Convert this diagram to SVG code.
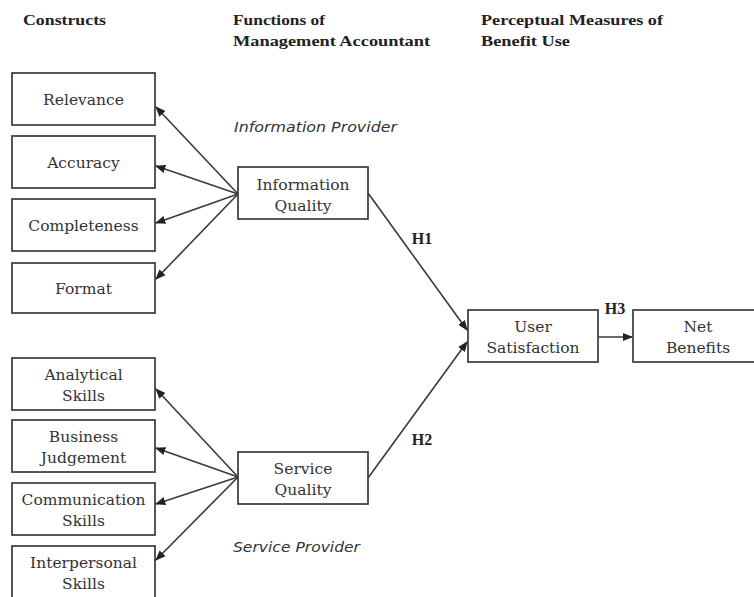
<svg xmlns="http://www.w3.org/2000/svg" width="754" height="597" viewBox="0 0 754 597">
  <style>
    .box { fill: #fff; stroke: #3a3a3a; stroke-width: 1.7; }
    .lbl { font-family: "DejaVu Serif", "Liberation Serif", serif; font-size: 15.5px; fill: #333; text-anchor: middle; }
    .hdr { font-family: "Liberation Serif", serif; font-size: 15px; font-weight: bold; fill: #222; }
    .cap { font-family: "DejaVu Sans", "Liberation Sans", sans-serif; font-size: 14px; font-style: italic; fill: #333; }
    .hyp { font-family: "Liberation Serif", serif; font-size: 16px; font-weight: bold; fill: #222; }
    .edge { stroke: #3a3a3a; stroke-width: 1.6; fill: none; marker-end: url(#arrow); }
  </style>
  <defs>
    <marker id="arrow" viewBox="0 0 10 10" refX="9" refY="5" markerWidth="6.5" markerHeight="6.5" orient="auto" markerUnits="strokeWidth">
      <path d="M0,1 L10,5 L0,9 z" fill="#222"/>
    </marker>
  </defs>

  <!-- column headings -->
  <g id="headings">
    <text class="hdr" x="23" y="25" textLength="83" lengthAdjust="spacingAndGlyphs">Constructs</text>
    <text class="hdr" x="233" y="25" textLength="92" lengthAdjust="spacingAndGlyphs">Functions of</text>
    <text class="hdr" x="233" y="46" textLength="197" lengthAdjust="spacingAndGlyphs">Management Accountant</text>
    <text class="hdr" x="481" y="25" textLength="182" lengthAdjust="spacingAndGlyphs">Perceptual Measures of</text>
    <text class="hdr" x="481" y="46" textLength="89" lengthAdjust="spacingAndGlyphs">Benefit Use</text>
  </g>

  <!-- role captions -->
  <text class="cap" x="234" y="132" textLength="163" lengthAdjust="spacingAndGlyphs">Information Provider</text>
  <text class="cap" x="233" y="552" textLength="127" lengthAdjust="spacingAndGlyphs">Service Provider</text>

  <!-- connectors -->
  <g id="connectors">
    <line class="edge" x1="238" y1="194" x2="156" y2="107"/>
    <line class="edge" x1="238" y1="194" x2="156" y2="166"/>
    <line class="edge" x1="238" y1="194" x2="156" y2="223"/>
    <line class="edge" x1="238" y1="194" x2="156" y2="279"/>
    <line class="edge" x1="238" y1="477" x2="156" y2="389"/>
    <line class="edge" x1="238" y1="477" x2="156" y2="448"/>
    <line class="edge" x1="238" y1="477" x2="156" y2="504"/>
    <line class="edge" x1="238" y1="477" x2="156" y2="560"/>
    <line class="edge" x1="368" y1="193" x2="467" y2="330"/>
    <line class="edge" x1="368" y1="478" x2="467" y2="342"/>
    <line class="edge" x1="598" y1="337" x2="632" y2="337"/>
    <text class="hyp" x="422" y="244" text-anchor="middle">H1</text>
    <text class="hyp" x="422" y="445" text-anchor="middle">H2</text>
    <text class="hyp" x="615" y="314" text-anchor="middle">H3</text>
  </g>

  <!-- information quality constructs -->
  <g id="relevance">
    <rect class="box" x="12" y="73" width="143" height="52"/>
    <text class="lbl" x="83.5" y="105">Relevance</text>
  </g>
  <g id="accuracy">
    <rect class="box" x="12" y="136" width="143" height="52"/>
    <text class="lbl" x="83.5" y="168">Accuracy</text>
  </g>
  <g id="completeness">
    <rect class="box" x="12" y="199" width="143" height="52"/>
    <text class="lbl" x="83.5" y="231">Completeness</text>
  </g>
  <g id="format">
    <rect class="box" x="12" y="263" width="143" height="50"/>
    <text class="lbl" x="83.5" y="294">Format</text>
  </g>

  <!-- service quality constructs -->
  <g id="analytical-skills">
    <rect class="box" x="12" y="358" width="143" height="52"/>
    <text class="lbl" x="83.5" y="380">Analytical</text>
    <text class="lbl" x="83.5" y="401">Skills</text>
  </g>
  <g id="business-judgement">
    <rect class="box" x="12" y="420" width="143" height="52"/>
    <text class="lbl" x="83.5" y="442">Business</text>
    <text class="lbl" x="83.5" y="463">Judgement</text>
  </g>
  <g id="communication-skills">
    <rect class="box" x="12" y="483" width="143" height="52"/>
    <text class="lbl" x="83.5" y="505">Communication</text>
    <text class="lbl" x="83.5" y="526">Skills</text>
  </g>
  <g id="interpersonal-skills">
    <rect class="box" x="12" y="546" width="143" height="60"/>
    <text class="lbl" x="83.5" y="568">Interpersonal</text>
    <text class="lbl" x="83.5" y="589">Skills</text>
  </g>

  <!-- quality dimensions -->
  <g id="information-quality">
    <rect class="box" x="238" y="167" width="130" height="52"/>
    <text class="lbl" x="303" y="190">Information</text>
    <text class="lbl" x="303" y="211">Quality</text>
  </g>
  <g id="service-quality">
    <rect class="box" x="238" y="452" width="130" height="52"/>
    <text class="lbl" x="303" y="474">Service</text>
    <text class="lbl" x="303" y="495">Quality</text>
  </g>

  <!-- outcomes -->
  <g id="user-satisfaction">
    <rect class="box" x="468" y="310" width="130" height="52"/>
    <text class="lbl" x="533" y="332">User</text>
    <text class="lbl" x="533" y="353">Satisfaction</text>
  </g>
  <g id="net-benefits">
    <rect class="box" x="633" y="310" width="130" height="52"/>
    <text class="lbl" x="698" y="332">Net</text>
    <text class="lbl" x="698" y="353">Benefits</text>
  </g>
</svg>
